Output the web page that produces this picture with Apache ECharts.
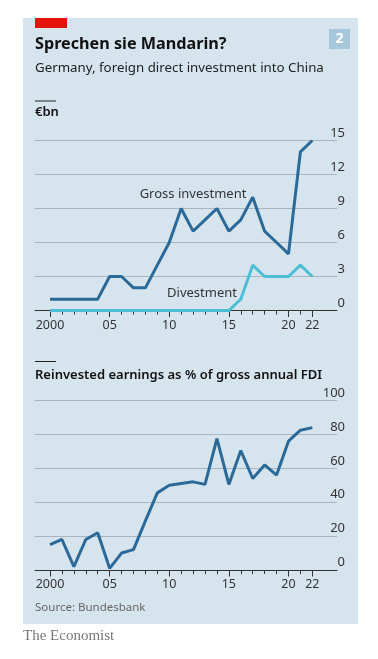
<!DOCTYPE html>
<html><head><meta charset="utf-8">
<script src="https://cdn.jsdelivr.net/npm/echarts@6/dist/echarts.min.js"></script>
<style>html,body{margin:0;padding:0;background:#fff}#c{width:378px;height:659px}</style>
</head><body><div id="c"></div>
<script>
const years = [2000,2001,2002,2003,2004,2005,2006,2007,2008,2009,2010,2011,2012,2013,2014,2015,2016,2017,2018,2019,2020,2021,2022];
const grossInvestment = [1,1,1,1,1,3,3,2,2,4,6,9,7,8,9,7,8,10,7,6,5,14,15];
const divestment = [0,0,0,0,0,0,0,0,0,0,0,0,0,0,0,0,1,4,3,3,3,4,3];
const reinvestedPct = [15,18,2,18,22,1,10,12,29,45.5,50,51,52,50.5,77.5,50.5,70.5,54,62,56,76,82.5,84];
const xLabelYears = [2000,2005,2010,2015,2020,2022];
const topTicks = [0,3,6,9,12,15];
const bottomTicks = [0,20,40,60,80,100];

const FONT = '"Noto Sans", sans-serif';
const DARK = '#2b6a98';
const CYAN = '#4cbfd6';
const BG = '#d6e4ee';
const xMin = 1998.74, xMax = 2024.07;

function pairs(vals){ return years.map((y,i)=>[y, vals[i]]); }
function yearFmt(v){ return v === 2000 ? '2000' : String(v).slice(2); }

function xAxes(gridIndex){
  return [
    { type:'value', gridIndex, position:'bottom', min:xMin, max:xMax,
      axisLine:{show:true, lineStyle:{color:'#333', width:1}},
      axisTick:{show:true, customValues:xLabelYears, length:6.5, lineStyle:{color:'#333', width:1}},
      axisLabel:{show:true, customValues:xLabelYears, formatter:yearFmt, margin:8,
        color:'#333', fontFamily:FONT, fontSize:12.5},
      splitLine:{show:false} },
    { type:'value', gridIndex, position:'bottom', min:xMin, max:xMax,
      axisLine:{show:false},
      axisTick:{show:true, customValues:years, length:4, lineStyle:{color:'#333', width:1}},
      axisLabel:{show:false}, splitLine:{show:false} }
  ];
}
function yAxis(gridIndex, ticks){
  return { type:'value', gridIndex, position:'right', min:ticks[0], max:ticks[ticks.length-1],
    interval: ticks[1]-ticks[0],
    axisLine:{show:false}, axisTick:{show:false},
    axisLabel:{show:true, align:'right', verticalAlign:'bottom', margin:8, padding:[0,0,1,0],
      color:'#333', fontFamily:FONT, fontSize:13},
    splitLine:{show:true, lineStyle:{color:'#a9b6bf', width:1}} };
}

const chart = echarts.init(document.getElementById('c'), null, {renderer:'canvas'});
chart.setOption({
  backgroundColor:'#fff',
  animation:false,
  grid:[
    {left:35, right:41, top:140.5, height:170},
    {left:35, right:41, top:400.5, height:169.5}
  ],
  xAxis:[...xAxes(0), ...xAxes(1)],
  yAxis:[yAxis(0, topTicks), yAxis(1, bottomTicks)],
  series:[
    {type:'line', xAxisIndex:0, yAxisIndex:0, data:pairs(divestment), symbol:'none', clip:false,
      lineStyle:{color:CYAN, width:3}, zlevel:1, z:3},
    {type:'line', xAxisIndex:0, yAxisIndex:0, data:pairs(grossInvestment), symbol:'none', clip:false,
      lineStyle:{color:DARK, width:3}, zlevel:1, z:4},
    {type:'line', xAxisIndex:2, yAxisIndex:1, data:pairs(reinvestedPct), symbol:'none', clip:false,
      lineStyle:{color:DARK, width:3}, zlevel:1, z:4}
  ],
  graphic:[
    {type:'rect', shape:{x:23, y:18, width:335, height:606}, style:{fill:BG}, z:-10, silent:true},
    {type:'rect', shape:{x:35, y:18, width:32, height:10}, style:{fill:'#e3120b'}, z:-5},
    {type:'rect', shape:{x:329, y:29, width:21, height:20}, style:{fill:'#a6c7dc'}, z:-5},
    {type:'text', x:339.5, y:39, style:{text:'2', fill:'#fff', font:'bold 14px '+FONT, textAlign:'center', textVerticalAlign:'middle'}},
    {type:'text', x:35, y:44, style:{text:'Sprechen sie Mandarin?', fill:'#111', font:'bold 16.2px '+FONT, textVerticalAlign:'middle'}},
    {type:'text', x:35, y:68, style:{text:'Germany, foreign direct investment into China', fill:'#222', font:'13.3px '+FONT, textVerticalAlign:'middle'}},
    {type:'rect', shape:{x:35, y:100.5, width:21, height:1}, style:{fill:'#222'}},
    {type:'text', x:35, y:112, style:{text:'€bn', fill:'#111', font:'600 13px '+FONT, textVerticalAlign:'middle'}},
    {type:'text', x:193, y:194, style:{text:'Gross investment', fill:'#333', font:'13px '+FONT, textAlign:'center', textVerticalAlign:'middle'}},
    {type:'text', x:202, y:293, style:{text:'Divestment', fill:'#333', font:'13px '+FONT, textAlign:'center', textVerticalAlign:'middle'}},
    {type:'rect', shape:{x:35, y:361, width:21, height:1}, style:{fill:'#222'}},
    {type:'text', x:35, y:375, style:{text:'Reinvested earnings as % of gross annual FDI', fill:'#111', font:'600 13px '+FONT, textVerticalAlign:'middle'}},
    {type:'text', x:35, y:608, style:{text:'Source: Bundesbank', fill:'#666', font:'11.5px '+FONT, textVerticalAlign:'middle'}},
    {type:'text', x:23, y:636, style:{text:'The Economist', fill:'#777', font:'15px "Liberation Serif", "DejaVu Serif", serif', textVerticalAlign:'middle'}}
  ]
});
</script></body></html>
